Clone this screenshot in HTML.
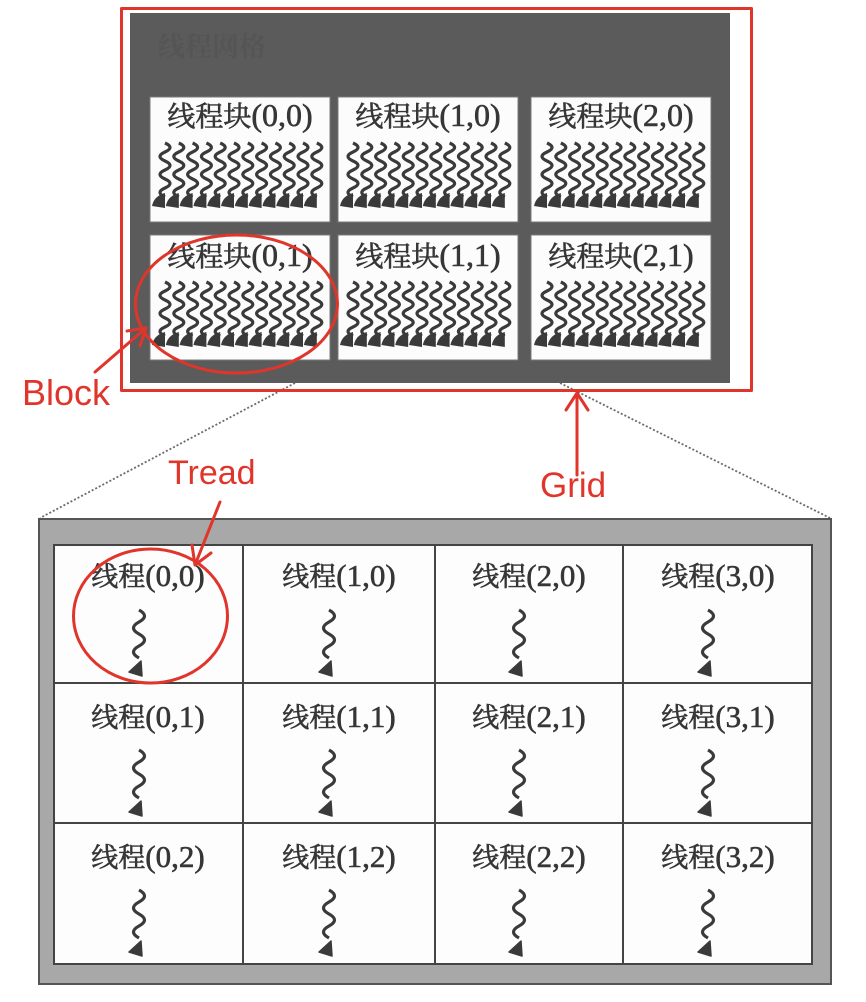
<!DOCTYPE html>
<html><head><meta charset="utf-8"><style>
html,body{margin:0;padding:0;background:#fff;}
svg{display:block;}
.cj{font-family:"Liberation Serif","Noto Serif CJK SC",serif;fill:#363636;stroke:#363636;stroke-width:0.6;}
.lat{font-family:"Liberation Serif",serif;}
.red{font-family:"Liberation Sans",sans-serif;fill:#e0352b;}
</style></head><body>
<svg width="866" height="1002" viewBox="0 0 866 1002" xmlns="http://www.w3.org/2000/svg">
<defs>
  <g id="bsq">
    <path d="M0,0 q10,4.5 0,9 t0,9 t0,9 t0,9 t0,9 t0,9" fill="none" stroke="#3a3a3a" stroke-width="3.2"/>
    <path d="M0,50 L0,65 L-13,63 Q-11,53 0,50 Z" fill="#3a3a3a"/>
  </g>
  <g id="row12">
    <use href="#bsq" x="0"/><use href="#bsq" x="13.8"/><use href="#bsq" x="27.6"/><use href="#bsq" x="41.4"/>
    <use href="#bsq" x="55.2"/><use href="#bsq" x="69"/><use href="#bsq" x="82.8"/><use href="#bsq" x="96.6"/>
    <use href="#bsq" x="110.4"/><use href="#bsq" x="124.2"/><use href="#bsq" x="138"/><use href="#bsq" x="151.8"/>
  </g>
  <g id="ssq">
    <path d="M0,0 q11,6 0,12 t0,12 t0,12 t0,12" fill="none" stroke="#3a3a3a" stroke-width="3.2"/>
    <path d="M-10,62 L2,51 L3,66 Z" fill="#3a3a3a" stroke="#3a3a3a" stroke-width="1.5" stroke-linejoin="round"/>
  </g>
</defs>

<!-- top dark grid panel -->
<rect x="130" y="13" width="600" height="370" fill="#5b5b5b"/>
<text x="158" y="56" font-size="27" font-weight="bold" fill="#555555" font-family="Liberation Serif,'Noto Serif CJK SC',serif">线程网格</text>

<!-- blocks -->
<g fill="#fcfcfc" stroke="#7a7a7a" stroke-width="1">
  <rect x="150" y="97" width="180" height="125"/>
  <rect x="338" y="97" width="180" height="125"/>
  <rect x="531" y="97" width="180" height="125"/>
  <rect x="150" y="235" width="180" height="125"/>
  <rect x="338" y="235" width="180" height="125"/>
  <rect x="531" y="235" width="180" height="125"/>
</g>
<g class="cj" text-anchor="middle" font-size="28">
  <text x="240" y="126">线程块<tspan class="lat" font-size="32">(0,0)</tspan></text>
  <text x="428" y="126">线程块<tspan class="lat" font-size="32">(1,0)</tspan></text>
  <text x="621" y="126">线程块<tspan class="lat" font-size="32">(2,0)</tspan></text>
  <text x="240" y="266">线程块<tspan class="lat" font-size="32">(0,1)</tspan></text>
  <text x="428" y="266">线程块<tspan class="lat" font-size="32">(1,1)</tspan></text>
  <text x="621" y="266">线程块<tspan class="lat" font-size="32">(2,1)</tspan></text>
</g>
<use href="#row12" x="165" y="143"/>
<use href="#row12" x="353" y="143"/>
<use href="#row12" x="547" y="143"/>
<use href="#row12" x="165" y="282"/>
<use href="#row12" x="353" y="282"/>
<use href="#row12" x="547" y="282"/>

<!-- dotted zoom lines -->
<g stroke="#6a6a6a" stroke-width="1.8" stroke-dasharray="2,2" fill="none">
  <line x1="295" y1="383" x2="40" y2="518"/>
  <line x1="560" y1="383" x2="830" y2="518"/>
</g>

<!-- bottom block panel -->
<rect x="39" y="519" width="792" height="465" fill="#a8a8a8" stroke="#555" stroke-width="2"/>
<rect x="54" y="545" width="758" height="419" fill="#fdfdfd" stroke="#444" stroke-width="2"/>
<g stroke="#444" stroke-width="2">
  <line x1="243" y1="545" x2="243" y2="964"/>
  <line x1="435" y1="545" x2="435" y2="964"/>
  <line x1="623" y1="545" x2="623" y2="964"/>
  <line x1="54" y1="683" x2="812" y2="683"/>
  <line x1="54" y1="823" x2="812" y2="823"/>
</g>
<g class="cj" text-anchor="middle" font-size="27">
  <text x="148" y="586">线程<tspan class="lat" font-size="31">(0,0)</tspan></text>
  <text x="339" y="586">线程<tspan class="lat" font-size="31">(1,0)</tspan></text>
  <text x="529" y="586">线程<tspan class="lat" font-size="31">(2,0)</tspan></text>
  <text x="718" y="586">线程<tspan class="lat" font-size="31">(3,0)</tspan></text>
  <text x="148" y="727">线程<tspan class="lat" font-size="31">(0,1)</tspan></text>
  <text x="339" y="727">线程<tspan class="lat" font-size="31">(1,1)</tspan></text>
  <text x="529" y="727">线程<tspan class="lat" font-size="31">(2,1)</tspan></text>
  <text x="718" y="727">线程<tspan class="lat" font-size="31">(3,1)</tspan></text>
  <text x="148" y="867">线程<tspan class="lat" font-size="31">(0,2)</tspan></text>
  <text x="339" y="867">线程<tspan class="lat" font-size="31">(1,2)</tspan></text>
  <text x="529" y="867">线程<tspan class="lat" font-size="31">(2,2)</tspan></text>
  <text x="718" y="867">线程<tspan class="lat" font-size="31">(3,2)</tspan></text>
</g>
<use href="#ssq" x="139" y="610"/>
<use href="#ssq" x="329" y="610"/>
<use href="#ssq" x="519" y="610"/>
<use href="#ssq" x="708" y="610"/>
<use href="#ssq" x="139" y="750"/>
<use href="#ssq" x="329" y="750"/>
<use href="#ssq" x="519" y="750"/>
<use href="#ssq" x="708" y="750"/>
<use href="#ssq" x="139" y="890"/>
<use href="#ssq" x="329" y="890"/>
<use href="#ssq" x="519" y="890"/>
<use href="#ssq" x="708" y="890"/>

<!-- red annotations -->
<g stroke="#e0352b" stroke-width="3" fill="none" stroke-linecap="round" stroke-linejoin="round">
  <rect x="121.5" y="8.5" width="630" height="382"/>
  <ellipse cx="236.5" cy="304" rx="101" ry="69"/>
  <ellipse cx="150.5" cy="616" rx="77" ry="67"/>
  <line x1="95" y1="372" x2="146" y2="328"/>
  <polyline points="127,331 146,328 140,346"/>
  <line x1="220" y1="502" x2="195" y2="565"/>
  <polyline points="211,553 195,565 192,545"/>
  <line x1="577" y1="475" x2="577" y2="393"/>
  <polyline points="566,410 577,393 588,410"/>
</g>
<text class="red" x="22" y="405" font-size="36">Block</text>
<text class="red" x="168" y="484" font-size="34">Tread</text>
<text class="red" x="540" y="497" font-size="35">Grid</text>
</svg>
</body></html>
